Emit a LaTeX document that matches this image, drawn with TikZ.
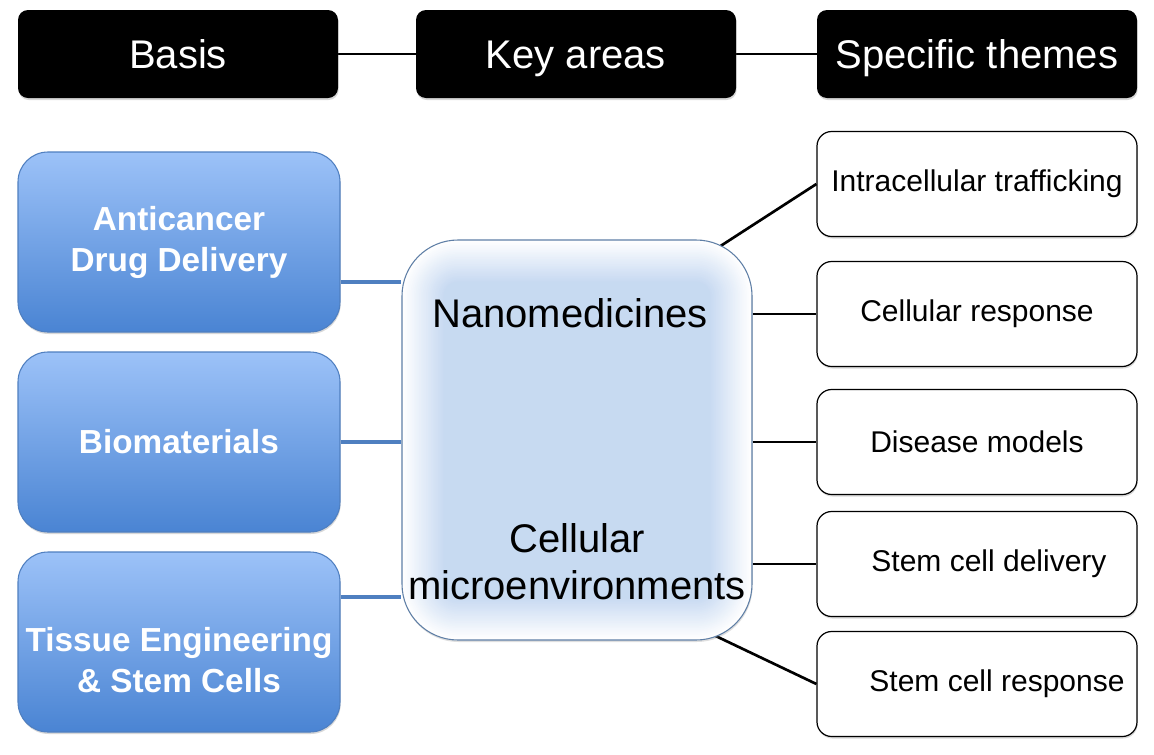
\documentclass[tikz,border=0pt]{standalone}
\usepackage{fontspec}
\setmainfont{Liberation Sans}
\usetikzlibrary{shadows}
\definecolor{basetop}{HTML}{9CC2F8}
\definecolor{basebottom}{HTML}{4A84D3}
\definecolor{baseedge}{HTML}{4F7FC0}
\definecolor{keyfill}{HTML}{C5D8F1}
\definecolor{keyline}{HTML}{5F7FA6}
\pgfdeclarelayer{background}
\pgfsetlayers{background,main}

\begin{document}
\begin{tikzpicture}[x=0.75pt, y=-0.75pt,
   headbox/.style={fill=black, rounded corners=7.5pt, minimum width=240pt, minimum height=66pt,
     text=white, font=\fontsize{30}{36}\selectfont, text height=25pt, text depth=3.6pt,
     drop shadow={opacity=0.3, shadow xshift=0.5pt, shadow yshift=-1.5pt}},
   basebox/.style={draw=baseedge, line width=0.8pt, top color=basetop, bottom color=basebottom,
     rounded corners=22.5pt, minimum width=241.5pt, minimum height=135pt,
     drop shadow={opacity=0.3, shadow xshift=0.5pt, shadow yshift=-1.5pt}},
   basetext/.style={text=white, align=center, font=\fontsize{25}{30.75}\selectfont\bfseries},
   keybox/.style={draw=keyline, line width=0.8pt, rounded corners=42pt,
     minimum width=262.5pt, minimum height=300pt,
     drop shadow={opacity=0.25, shadow xshift=0.5pt, shadow yshift=-1.5pt},
     path picture={
       \foreach \i in {0,...,24}{
         \pgfmathsetmacro\mix{\i*4}
         \pgfmathsetmacro\rc{42-1.3*\i}
         \pgfmathsetmacro\ins{1.3*\i}
         \fill[keyfill!\mix!white, rounded corners=\rc pt]
           ([xshift=\ins pt, yshift=-\ins pt]path picture bounding box.north west) rectangle
           ([xshift=-\ins pt, yshift=\ins pt]path picture bounding box.south east);
       }}},
   keytext/.style={align=center, font=\fontsize{30}{35.25}\selectfont},
   themebox/.style={draw=black, fill=white, line width=0.9pt, rounded corners=11pt,
     minimum width=240pt, minimum height=78.75pt,
     drop shadow={opacity=0.3, shadow xshift=0.5pt, shadow yshift=-1.5pt}},
   themetext/.style={font=\fontsize{22.5}{27}\selectfont},
   headlink/.style={black, line width=1.6pt},
   baselink/.style={draw=baseedge, line width=2.4pt},
   themelink/.style={black, line width=2pt}]
   \useasboundingbox (0,0) rectangle (1154,754);
   \node[headbox] (basis) at (178,54) {Basis};
   \node[headbox] (key) at (576,54) {Key areas};
   \node[headbox] (theme) at (977,54) {Specific themes};
   \node[basebox, basetext] (anti) at (179,242) {Anticancer\\Drug Delivery};
   \node[basebox, basetext] (bio) at (179,442) {Biomaterials};
   \node[basebox, label={[basetext, yshift=-13.5pt]center:{Tissue Engineering\\\& Stem Cells}}] (tissue) at (179,642) {};
   \node[keybox] (hub) at (577,440) {};
   \node[keytext] (nano) at (570,313) {Nanomedicines};
   \node[keytext] (micro) at (577,562) {Cellular\\microenvironments};
   \node[themebox, themetext] (intra) at (977,184) {Intracellular trafficking};
   \node[themebox, themetext] (resp) at (977,314) {Cellular response};
   \node[themebox, themetext] (disease) at (977,442) {Disease models};
   \node[themebox, label={[themetext, xshift=9pt]center:Stem cell delivery}] (deliv) at (977,564) {};
   \node[themebox, label={[themetext, xshift=15pt]center:Stem cell response}] (stemresp) at (977,684) {};
   \begin{pgfonlayer}{background}
   \fill[white] (0,0) rectangle (1154,754);
   \draw[headlink] (basis) -- (key);
   \draw[headlink] (key) -- (theme);
   \draw[baselink] ([yshift=-30pt]anti.east) -- ([yshift=-30pt]anti.east -| hub.west);
   \draw[baselink] (bio.east) -- (bio.east -| hub.west);
   \draw[baselink] ([yshift=33.75pt]tissue.east) -- ([yshift=33.75pt]tissue.east -| hub.west);
   \draw[themelink] ([xshift=-31.5pt, yshift=-9.75pt]hub.north east) -- (intra.west);
   \draw[themelink] (resp.west -| hub.east) -- (resp.west);
   \draw[themelink] (disease.west -| hub.east) -- (disease.west);
   \draw[themelink] (deliv.west -| hub.east) -- (deliv.west);
   \draw[themelink] ([xshift=-31.5pt, yshift=5.25pt]hub.south east) -- (stemresp.west);
   \end{pgfonlayer}
\end{tikzpicture}
\end{document}
